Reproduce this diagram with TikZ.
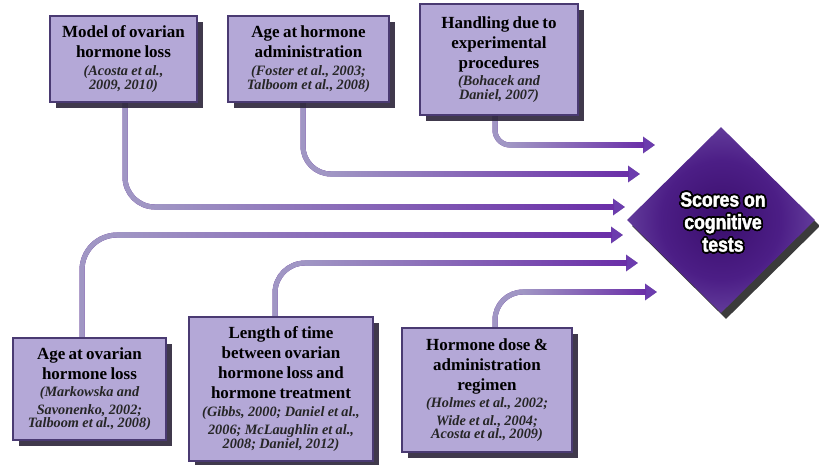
\documentclass[tikz,border=0pt]{standalone}
\usepackage{fontspec}
\setmainfont{Liberation Serif}
\newfontfamily\dfont{Liberation Sans}[FakeStretch=0.86, BoldFeatures={FakeBold=2}]
\usetikzlibrary{shapes.geometric,arrows.meta,calc,shadows}
\definecolor{boxfill}{HTML}{B4A8D7}
\definecolor{boxborder}{HTML}{4A3A72}
\definecolor{shadowc}{HTML}{2B2438}
\definecolor{lavline}{HTML}{A096C4}
\definecolor{purpline}{HTML}{6A2EA8}
\definecolor{arrowc}{HTML}{6C3CAE}
\definecolor{citc}{HTML}{262626}
\definecolor{dpa}{HTML}{3A0E6C}
\definecolor{dpb}{HTML}{4C1E86}
\definecolor{dpc}{HTML}{6E4CA6}
\definecolor{dpd}{HTML}{A892CF}
\pgfdeclareradialshading{diam}{\pgfpointorigin}{color(0bp)=(dpa); color(16bp)=(dpb); color(30bp)=(dpc); color(50bp)=(dpd)}
\pgfdeclarelayer{bg}
\pgfsetlayers{bg,main}
\newcommand\ttl{\fontsize{17}{20}\selectfont\bfseries\color{black}}
\newcommand\cit{\fontsize{14.3}{17.7}\selectfont\itshape\color{citc}}
\newcommand\link[3]{%
  \draw[connshadow, rounded corners=#3pt] (#1) |- (#2);
  \draw[conn, rounded corners=#3pt] (#1) |- (#2);
  \draw[connlight, rounded corners=#3pt] (#1) |- ($(#1|-#2)+(#3,0)$);
  \shade[left color=lavline, middle color=purpline!75!lavline, right color=purpline]
    ($(#1|-#2)+(#3-0.5,-2.5)$) rectangle ($(#2)+(-11,2.5)$);
}
\tikzset{
  factor/.style={draw=boxborder, line width=1.2pt, fill=boxfill, align=center, inner sep=2pt,
    drop shadow={shadow xshift=6pt, shadow yshift=-6pt, fill=shadowc, opacity=0.9}},
  conn/.style={draw=purpline, line width=5pt, -{Triangle[length=12pt,width=16pt,color=arrowc]}},
  connshadow/.style={draw=black!60, opacity=0.45, line width=5pt, shift={(1,2.5)},
    -{Triangle[length=12pt,width=16pt]}},
  connlight/.style={draw=lavline, line width=5pt},
  dlabel/.style={align=center, font=\dfont\bfseries\fontsize{20.5}{22.5}\selectfont, inner sep=0pt}
}
\begin{document}
\begin{tikzpicture}[x=1pt,y=-1pt]
\useasboundingbox (0,0) rectangle (819,464);

\node[factor, minimum width=147pt, minimum height=86pt, text width=143pt] (m1) at (123.5,59)
  {\ttl Model of ovarian\\hormone loss\par\cit (Acosta et al.,\\2009, 2010)};
\node[factor, minimum width=161pt, minimum height=86pt, text width=157pt] (m2) at (308.5,59)
  {\ttl Age at hormone\\administration\par\cit (Foster et al., 2003;\\Talboom et al., 2008)};
\node[factor, minimum width=158pt, minimum height=111pt, text width=154pt] (m3) at (499,59.5)
  {\ttl Handling due to\\experimental\\procedures\par\cit (Bohacek and\\Daniel, 2007)};
\node[factor, minimum width=153pt, minimum height=102pt, text width=149pt] (m5) at (89.5,389)
  {\ttl Age at ovarian\\hormone loss\par\cit (Markowska and\\Savonenko, 2002;\\Talboom et al., 2008)};
\node[factor, minimum width=184pt, minimum height=144pt, text width=180pt] (m6) at (281,389)
  {\ttl Length of time\\between ovarian\\hormone loss and\\hormone treatment\par\cit (Gibbs, 2000; Daniel et al.,\\2006; McLaughlin et al.,\\2008; Daniel, 2012)};
\node[factor, minimum width=170pt, minimum height=124pt, text width=166pt] (m7) at (487,390)
  {\ttl Hormone dose \&\\administration\\regimen\par\cit (Holmes et al., 2002;\\Wide et al., 2004;\\Acosta et al., 2009)};

\node[diamond, minimum width=188pt, minimum height=186pt, inner sep=0pt, shade, shading=diam,
  drop shadow={shadow xshift=5pt, shadow yshift=-6pt, fill=black!85, opacity=0.9}] (dia) at (721,220) {};
\foreach \a in {0,30,...,330}
  \node[dlabel, text=black] (dl\a) at ($(723,222)+(\a:1.8pt)$) {Scores on\\cognitive\\tests};
\node[dlabel, text=white] (dlw) at (723,222) {Scores on\\cognitive\\tests};

\coordinate (s1) at ([xshift=1.5pt]m1.south);
\coordinate (s2) at ([xshift=-5.5pt]m2.south);
\coordinate (s3) at ([xshift=-4pt]m3.south);
\coordinate (s4) at ([xshift=-7.5pt]m5.north);
\coordinate (s5) at ([xshift=-6pt]m6.north);
\coordinate (s6) at ([xshift=8pt]m7.north);
\coordinate (t1) at (655,145);
\coordinate (t2) at (640,174);
\coordinate (t3) at (625,207);
\coordinate (t4) at (623,235);
\coordinate (t5) at (638,263);
\coordinate (t6) at (657,292);

\begin{pgfonlayer}{bg}
\link{s1}{t3}{30}
\link{s2}{t2}{28}
\link{s3}{t1}{15}
\link{s4}{t4}{35}
\link{s5}{t5}{30}
\link{s6}{t6}{28}
\end{pgfonlayer}
\end{tikzpicture}
\end{document}
